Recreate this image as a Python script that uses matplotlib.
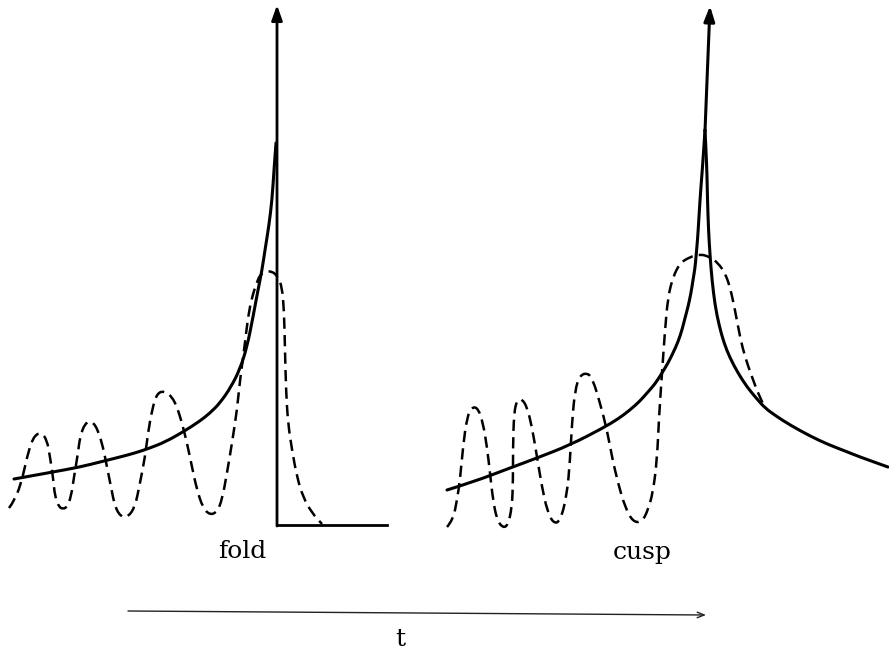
import numpy as np
import matplotlib
matplotlib.use("Agg")
import matplotlib.pyplot as plt
from matplotlib.path import Path
from matplotlib.patches import PathPatch

# curves, in pixel units (x right, y down)
fold_solid = np.array([
    (14, 479), (53, 472), (80, 467), (100, 462), (120, 457), (135, 453),
    (150, 448), (165, 442), (183, 432), (200, 421), (210, 413), (220, 403),
    (231, 387), (240, 369), (247, 347), (253, 317), (258, 290), (262, 270),
    (265, 250), (269, 225), (272, 200), (274, 170), (276, 143)])

fold_dashed = np.array([
    (9, 508), (15, 500), (22, 480), (27, 457), (33, 437), (41, 432),
    (47, 440), (50, 457), (53, 477), (55, 497), (59, 507), (63, 509),
    (67, 507), (71, 497), (74, 477), (78, 453), (80, 437), (85, 423),
    (92, 421), (98, 430), (103, 447), (107, 467), (111, 487), (115, 507),
    (121, 517), (128, 517), (135, 507), (140, 483), (145, 457), (148, 433),
    (152, 410), (157, 393), (165, 391), (172, 397), (177, 407), (182, 423),
    (187, 443), (192, 467), (197, 490), (203, 508), (210, 515), (217, 512),
    (222, 500), (227, 473), (232, 443), (237, 410), (240, 380), (245, 343),
    (248, 317), (252, 297), (257, 282), (260, 275), (265, 272), (272, 271),
    (278, 277), (282, 287), (284, 310), (285, 350), (286, 390), (288, 423),
    (292, 450), (297, 477), (303, 497), (312, 513), (322, 524)])

cusp_left = np.array([
    (447, 490), (473, 482), (510, 468), (537, 458), (570, 445), (603, 428),
    (618, 419), (630, 410), (640, 401), (647, 393), (655, 384), (662, 373),
    (668, 363), (673, 353), (678, 342), (682, 330), (685, 318), (688, 307),
    (691, 293), (693, 280), (695, 268), (696, 257), (697.5, 240),
    (698.5, 225), (700, 200), (701.5, 180), (703, 160), (704, 145), (705, 130)])

cusp_right = np.array([
    (705, 130), (706, 150), (707, 175), (707.5, 200), (708.5, 230),
    (710, 255), (712, 280), (715, 305), (719, 325), (724, 343), (730, 358),
    (738, 373), (747, 387), (757, 399), (765, 408), (776, 416), (790, 425),
    (810, 436), (827, 444), (845, 451), (860, 457), (888, 467)])

cusp_dashed = np.array([
    (447, 527), (453, 520), (457, 500), (460, 480), (463, 447), (467, 417),
    (472, 407), (478, 408), (483, 423), (487, 447), (490, 473), (493, 500),
    (497, 520), (503, 528), (508, 525), (512, 507), (513, 480), (513, 447),
    (514, 413), (517, 400), (522, 399), (527, 407), (532, 427), (537, 457),
    (542, 487), (547, 510), (553, 523), (560, 522), (567, 495), (570, 460),
    (572, 423), (575, 390), (580, 375), (588, 373), (593, 380), (600, 403),
    (607, 430), (612, 457), (618, 483), (625, 507), (633, 522), (642, 522),
    (648, 510), (653, 492), (657, 460), (659, 417), (662, 373), (665, 330),
    (668, 297), (673, 277), (680, 263), (690, 257), (700, 254), (710, 257),
    (718, 263), (725, 273), (730, 287), (735, 310), (740, 337), (745, 357),
    (752, 377), (758, 393), (765, 408)])

labels = ["fold", "cusp", "t"]


def smooth(ax, pts, **kw):
    # quadratic b-spline through the read points (points act as controls)
    verts = [tuple(pts[0])]
    codes = [Path.MOVETO]
    for i in range(1, len(pts) - 1):
        mid = (pts[i] + pts[i + 1]) / 2.0
        verts += [tuple(pts[i]), tuple(mid)]
        codes += [Path.CURVE3, Path.CURVE3]
    verts.append(tuple(pts[-1]))
    codes.append(Path.LINETO)
    ax.add_patch(PathPatch(Path(verts, codes), fill=False, **kw))


fig = plt.figure(figsize=(8.89, 6.56), dpi=100)
ax = fig.add_axes([0, 0, 1, 1])
ax.set_xlim(0, 889)
ax.set_ylim(656, 0)
ax.axis("off")

solid = dict(edgecolor="black", lw=2.2, capstyle="round", joinstyle="round")
dashed = dict(edgecolor="black", lw=1.8, linestyle=(0, (4.5, 2.5)))

# fold panel
smooth(ax, fold_solid, **solid)
smooth(ax, fold_dashed, **dashed)
ax.plot([277, 387], [525, 525], color="black", lw=2.0)
ax.annotate("", xy=(277, 5), xytext=(277, 526),
            arrowprops=dict(arrowstyle="-|>,head_length=0.9,head_width=0.32",
                            lw=2.0, color="black", shrinkA=0, shrinkB=0))

# cusp panel
smooth(ax, cusp_left, **solid)
smooth(ax, cusp_right, **solid)
smooth(ax, cusp_dashed, **dashed)
ax.annotate("", xy=(710, 6), xytext=(705, 131),
            arrowprops=dict(arrowstyle="-|>,head_length=0.9,head_width=0.32",
                            lw=2.2, color="black", shrinkA=0, shrinkB=0))

# time axis
ax.annotate("", xy=(706, 615), xytext=(128, 611),
            arrowprops=dict(arrowstyle="->,head_length=0.5,head_width=0.2",
                            lw=1.0, color="#222222", shrinkA=0, shrinkB=0))

txt = dict(family="DejaVu Serif", fontsize=18, ha="center", va="center")
ax.text(242, 552, labels[0], **txt)
ax.text(642, 552, labels[1], **txt)
ax.text(400, 640, labels[2], **txt)

fig.savefig("out.png", dpi=100)
